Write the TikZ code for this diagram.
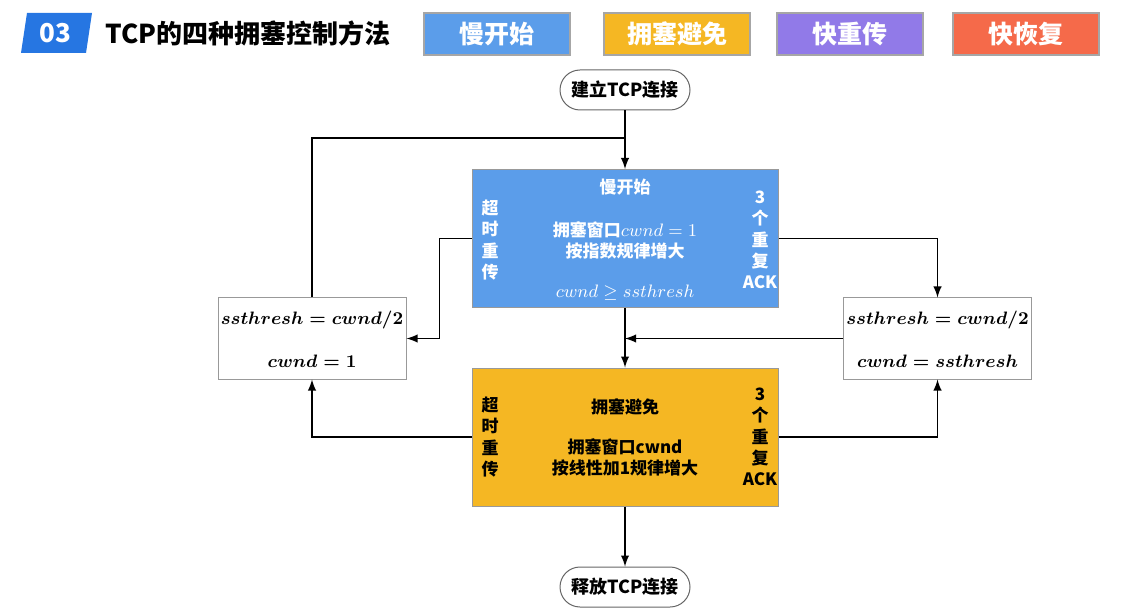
\documentclass[tikz,border=0pt]{standalone}
\usepackage[no-math]{fontspec}
\setmainfont{Liberation Sans}
\newfontfamily\cjk{Noto Sans CJK SC}
\usetikzlibrary{arrows}

\definecolor{ssblue}{RGB}{91,157,234}
\definecolor{caorange}{RGB}{245,183,35}
\definecolor{frpurple}{RGB}{145,122,232}
\definecolor{fqred}{RGB}{245,106,74}
\definecolor{titleblue}{RGB}{38,118,226}

\begin{document}
\begin{tikzpicture}[x=0.5pt,y=-0.5pt,line width=0.9pt,
  every node/.style={font=\cjk\bfseries},
  legend/.style={draw=black!35,line width=0.6pt,text=white,minimum width=73pt,minimum height=21pt,font=\cjk\bfseries\fontsize{12.5}{14}\selectfont},
  state/.style={draw=black!40,line width=0.5pt,minimum width=153pt,minimum height=69pt},
  reset/.style={draw=black!40,line width=0.5pt,fill=white,minimum width=94pt,minimum height=40.5pt},
  pill/.style={draw=black!60,line width=0.5pt,rounded corners=10pt,minimum width=65pt,minimum height=20pt,font=\cjk\bfseries\fontsize{9}{10}\selectfont},
  txt/.style={font=\cjk\bfseries\fontsize{8.5}{10.5}\selectfont,align=center},
  side/.style={font=\cjk\bfseries\fontsize{8.5}{10.6}\selectfont,align=center},
  formula/.style={font=\fontsize{9.5}{11}\selectfont},
  boldformula/.style={font=\mathversion{bold}\fontsize{9.2}{11}\selectfont}]
\useasboundingbox (0,0) rectangle (1144,614);

\fill[titleblue] (27,13) -- (92,13) -- (86,53) -- (21,53) -- cycle;
\node[text=white,font=\cjk\bfseries\fontsize{13}{14}\selectfont] (num) at (55,33) {03};
\node[anchor=west,font=\cjk\bfseries\fontsize{13}{14}\selectfont] (title) at (98,33) {TCP的四种拥塞控制方法};

\node[legend,fill=ssblue] (l1) at (497,34) {慢开始};
\node[legend,fill=caorange] (l2) at (677,34) {拥塞避免};
\node[legend,fill=frpurple] (l3) at (850,34) {快重传};
\node[legend,fill=fqred] (l4) at (1026,34) {快恢复};

\node[pill] (start) at (625,90) {建立TCP连接};
\node[state,fill=ssblue] (ss) at (625,238.5) {};
\node[state,fill=caorange] (ca) at (625,437) {};
\node[reset] (lb) at (312,338.5) {};
\node[reset] (rb) at (937.5,338.5) {};
\node[pill] (end) at (625,587) {释放TCP连接};
\coordinate (join) at (625,138);

\node[txt,text=white] (ssname) at (625,187) {慢开始};
\node[txt,text=white] (ssrule) at (625,240) {拥塞窗口{\fontsize{9.5}{10.5}\selectfont$cwnd=1$}\\按指数规律增大};
\node[formula,text=white] (sscond) at (625,293) {$cwnd\geq ssthresh$};
\node[side,text=white] (sstimeout) at (490,240) {超\\时\\重\\传};
\node[side,text=white] (ssdup) at (760,240) {3\\个\\重\\复\\ACK};

\node[txt] (caname) at (625,407) {拥塞避免};
\node[txt] (carule) at (625,457) {拥塞窗口cwnd\\按线性加1规律增大};
\node[side] (catimeout) at (490,437) {超\\时\\重\\传};
\node[side] (cadup) at (760,437) {3\\个\\重\\复\\ACK};

\node[boldformula] (lbtop) at (312,320) {$ssthresh=cwnd/2$};
\node[boldformula] (lbbot) at (312,361) {$cwnd=1$};
\node[boldformula] (rbtop) at (937.5,320) {$ssthresh=cwnd/2$};
\node[boldformula] (rbbot) at (937.5,361) {$cwnd=ssthresh$};

\draw[-latex] (start) -- (ss);
\draw (lb.north) |- (join);
\draw[-latex] (ss.west) -- ++(-32,0) |- (lb.east);
\draw[-latex] (ss.east) -| (rb.north);
\draw[-latex] (ss) -- (ca);
\draw[-latex] (rb.west) -- (rb.west -| ss.south);
\draw[-latex] (ca.west) -| (lb.south);
\draw[-latex] (ca.east) -| (rb.south);
\draw[-latex] (ca) -- (end);
\end{tikzpicture}
\end{document}
